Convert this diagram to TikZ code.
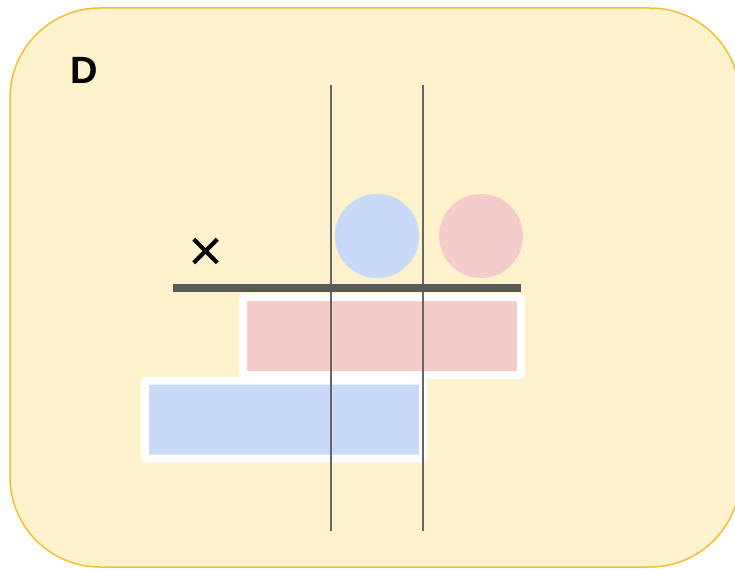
\documentclass[tikz,border=0pt]{standalone}
\usepackage{fontspec}
\setmainfont{Liberation Sans}
\usetikzlibrary{positioning}

\definecolor{boxfill}{RGB}{255,242,204}
\definecolor{boxline}{RGB}{240,192,52}
\definecolor{blueish}{RGB}{201,218,248}
\definecolor{pinkish}{RGB}{244,204,204}
\definecolor{barcol}{RGB}{89,89,89}
\definecolor{rulecol}{RGB}{102,102,102}

\begin{document}
\begin{tikzpicture}[x=1pt,y=-1pt,
  slab/.style={draw=white,line width=8pt,rounded corners=2pt,minimum width=278pt,minimum height=78pt,inner sep=0pt},
  ball/.style={circle,minimum size=84pt,inner sep=0pt}]
 \useasboundingbox (0,0) rectangle (735,569);
 \draw[fill=boxfill,draw=boxline,line width=1.5pt,rounded corners=90pt](10,8) rectangle (740,567);
 \node[font=\bfseries\fontsize{38}{42}\selectfont] (label) at (84,70) {D};
 \node[font=\fontsize{60}{60}\selectfont] (cross) at (206,255) {×};
 \node[ball,fill=blueish,draw={rgb,255:red,212;green,226;blue,236},line width=1pt] (blueball) at (377,236) {};
 \node[ball,fill=pinkish] (pinkball) at (481,236) {};
 \node[slab,fill=pinkish] (pinkslab) at (382,336) {};
 \node[slab,fill=blueish] (blueslab) at (284,419.5) {};
 % guide lines
 \coordinate (top1) at (331,85);
 \coordinate (bot1) at (331,531);
 \coordinate (top2) at (423,85);
 \coordinate (bot2) at (423,531);
 \draw[rulecol,line width=2pt](top1)--(bot1);
 \draw[rulecol,line width=2pt](top2)--(bot2);
 % the bar
 \coordinate (barl) at (173,288);
 \coordinate (barr) at (521,288);
 \draw[barcol,line width=8pt](barl)--(barr);
\end{tikzpicture}
\end{document}
